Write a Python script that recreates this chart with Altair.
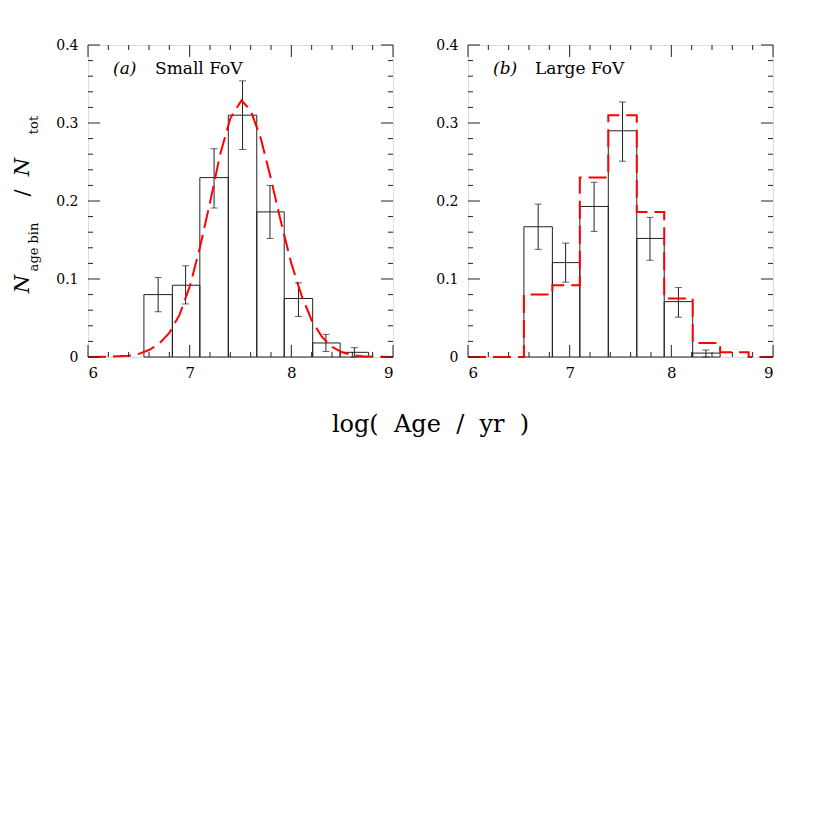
import altair as alt
import pandas as pd
import numpy as np

# ---------------- data ----------------
bin_lo = [6.55, 6.83, 7.10, 7.38, 7.66, 7.93, 8.21, 8.48]
bin_hi = [6.83, 7.10, 7.38, 7.66, 7.93, 8.21, 8.48, 8.76]
bin_mid = [6.69, 6.96, 7.24, 7.52, 7.79, 8.07, 8.34, 8.62]

# (a) Small FoV
small_val = [0.080, 0.092, 0.230, 0.310, 0.186, 0.075, 0.018, 0.006]
small_err_lo = [0.058, 0.068, 0.191, 0.266, 0.152, 0.052, 0.007, 0.000]
small_err_hi = [0.102, 0.117, 0.267, 0.354, 0.220, 0.095, 0.029, 0.012]

# (b) Large FoV
large_val = [0.167, 0.121, 0.193, 0.290, 0.152, 0.071, 0.005, 0.0]
large_err_lo = [0.138, 0.096, 0.161, 0.251, 0.124, 0.051, 0.000, 0.0]
large_err_hi = [0.196, 0.146, 0.224, 0.327, 0.179, 0.089, 0.009, 0.0]

# model curve in (a)
curve_x = [6.0, 6.2, 6.4, 6.5, 6.6, 6.7, 6.8, 6.9, 7.0, 7.1, 7.2, 7.3, 7.4, 7.51,
           7.6, 7.7, 7.8, 7.9, 8.0, 8.1, 8.2, 8.3, 8.4, 8.5, 8.6, 8.7, 8.8, 9.0]
curve_y = [0.0, 0.0003, 0.0015, 0.004, 0.009, 0.017, 0.031, 0.054, 0.090, 0.140,
           0.198, 0.260, 0.306, 0.329, 0.316, 0.280, 0.228, 0.172, 0.120, 0.079,
           0.047, 0.026, 0.013, 0.006, 0.0025, 0.001, 0.0003, 0.0]

# red step histogram in (b) = Small FoV histogram
step_x = [6.0] + bin_lo + [8.76, 9.0]
step_y = [0.0] + small_val + [0.0, 0.0]

x_major = [6, 7, 8, 9]
x_minor = [round(v, 2) for v in np.arange(6.0, 9.001, 0.2) if abs(v - round(v)) > 1e-6]
y_major = [0.0, 0.1, 0.2, 0.3, 0.4]
y_minor = [round(v, 3) for v in np.arange(0.0, 0.4001, 0.02) if abs(v * 10 - round(v * 10)) > 1e-6]

W, H = 305, 312
FONT = "DejaVu Serif"
INK = "#222222"
RED = "#ff0000"
NB = "\u00a0"

xscale = alt.Scale(domain=[6, 9], nice=False, zero=False)
yscale = alt.Scale(domain=[0, 0.4], nice=False, zero=False)
xaxis = alt.Axis(values=x_major, tickSize=0, domain=False, grid=False, title=None,
                 labelFont=FONT, labelFontSize=15, labelColor="#000", labelPadding=8,
                 labelFontWeight="normal")
yaxis = alt.Axis(values=y_major, tickSize=0, domain=False, grid=False, title=None,
                 labelFont=FONT, labelFontSize=14, labelColor="#000", labelPadding=10,
                 labelExpr="datum.value == 0 ? '0' : format(datum.value, '.1f')")


def X(f):
    return alt.X(f, type="quantitative", scale=xscale, axis=xaxis)


def Y(f):
    return alt.Y(f, type="quantitative", scale=yscale, axis=yaxis)


def ticks():
    layers = []
    for vals, ln in ((x_major, 12), (x_minor, 5)):
        d = pd.DataFrame({"t": vals})
        layers.append(alt.Chart(d).mark_rule(color=INK, strokeWidth=1).encode(
            x=X("t"), y=alt.value(H), y2=alt.value(H - ln)))
        layers.append(alt.Chart(d).mark_rule(color=INK, strokeWidth=1).encode(
            x=X("t"), y=alt.value(0), y2=alt.value(ln)))
    for vals, ln in ((y_major, 12), (y_minor, 5)):
        d = pd.DataFrame({"t": vals})
        layers.append(alt.Chart(d).mark_rule(color=INK, strokeWidth=1).encode(
            y=Y("t"), x=alt.value(0), x2=alt.value(ln)))
        layers.append(alt.Chart(d).mark_rule(color=INK, strokeWidth=1).encode(
            y=Y("t"), x=alt.value(W), x2=alt.value(W - ln)))
    return layers


def hist_layers(val, elo, ehi):
    d = pd.DataFrame({"lo": bin_lo, "hi": bin_hi, "mid": bin_mid, "v": val,
                      "base": [0.0] * len(val), "elo": elo, "ehi": ehi})
    dv = d[d["v"] > 0]
    bars = alt.Chart(dv).mark_rect(fill=None, fillOpacity=0, stroke=INK, strokeWidth=1).encode(
        x=X("lo"), x2="hi", y=Y("v"), y2="base")
    de = d[d["ehi"] > 0]
    err = alt.Chart(de).mark_rule(color=INK, strokeWidth=1).encode(
        x=X("mid"), y=Y("elo"), y2="ehi")
    cap_lo = alt.Chart(de).mark_tick(color=INK, orient="horizontal", size=7, thickness=1).encode(
        x=X("mid"), y=Y("elo"))
    cap_hi = alt.Chart(de).mark_tick(color=INK, orient="horizontal", size=7, thickness=1).encode(
        x=X("mid"), y=Y("ehi"))
    return [bars, err, cap_lo, cap_hi]


def label_layers(tag, name):
    a = alt.Chart(pd.DataFrame({"s": [tag]})).mark_text(
        font=FONT, fontSize=17, fontStyle="italic", align="left", baseline="alphabetic",
        color="#000").encode(text="s:N", x=alt.value(25), y=alt.value(29))
    b = alt.Chart(pd.DataFrame({"s": [name]})).mark_text(
        font=FONT, fontSize=17, align="left", baseline="alphabetic",
        color="#000").encode(text="s:N", x=alt.value(67), y=alt.value(29))
    return [a, b]


def ytitle_layers():
    parts = [("N", 239, -59, 21, "italic"), ("age" + NB + "bin", 202, -50, 13, "normal"),
             ("/", 148, -59, 21, "normal"), ("N", 122, -59, 21, "italic"),
             ("tot", 80, -50, 13, "normal")]
    out = []
    for s, yy, xx, fs, st in parts:
        out.append(alt.Chart(pd.DataFrame({"s": [s]})).mark_text(
            font=FONT, fontSize=fs, fontStyle=st, angle=270, align="center",
            baseline="alphabetic", color="#000").encode(
            text="s:N", x=alt.value(xx), y=alt.value(yy)))
    return out


# ---- panel (a)
curve_df = pd.DataFrame({"x": curve_x, "y": curve_y})
curve = alt.Chart(curve_df).mark_line(color=RED, strokeWidth=2, strokeDash=[18, 7]).encode(
    x=X("x"), y=Y("y"), order="x:Q")

left = alt.layer(*hist_layers(small_val, small_err_lo, small_err_hi), curve, *ticks(),
                 *label_layers("(a)", "Small FoV"), *ytitle_layers()).properties(width=W, height=H)

# ---- panel (b)
step_df = pd.DataFrame({"x": step_x, "y": step_y})
step = alt.Chart(step_df).mark_line(color=RED, strokeWidth=2, strokeDash=[18, 7],
                                    interpolate="step-after").encode(
    x=X("x"), y=Y("y"), order="x:Q")

xtitle_text = "log(" + NB * 2 + "Age" + NB * 2 + "/" + NB * 2 + "yr" + NB * 2 + ")"
xtitle = alt.Chart(pd.DataFrame({"s": [xtitle_text]})).mark_text(
    font=FONT, fontSize=24, align="center", baseline="alphabetic", color="#000").encode(
    text="s:N", x=alt.value(-37.5), y=alt.value(387))

right = alt.layer(*hist_layers(large_val, large_err_lo, large_err_hi), step, *ticks(),
                  *label_layers("(b)", "Large FoV"), xtitle).properties(width=W, height=H)

chart = alt.hconcat(left, right, spacing=75, bounds="flush").properties(
    padding={"left": 3, "top": 29, "right": 5, "bottom": 5}
).configure_view(stroke="#000", strokeWidth=1).configure(background="white")

chart.save("out.html", embed_options={"renderer": "svg", "actions": False})
